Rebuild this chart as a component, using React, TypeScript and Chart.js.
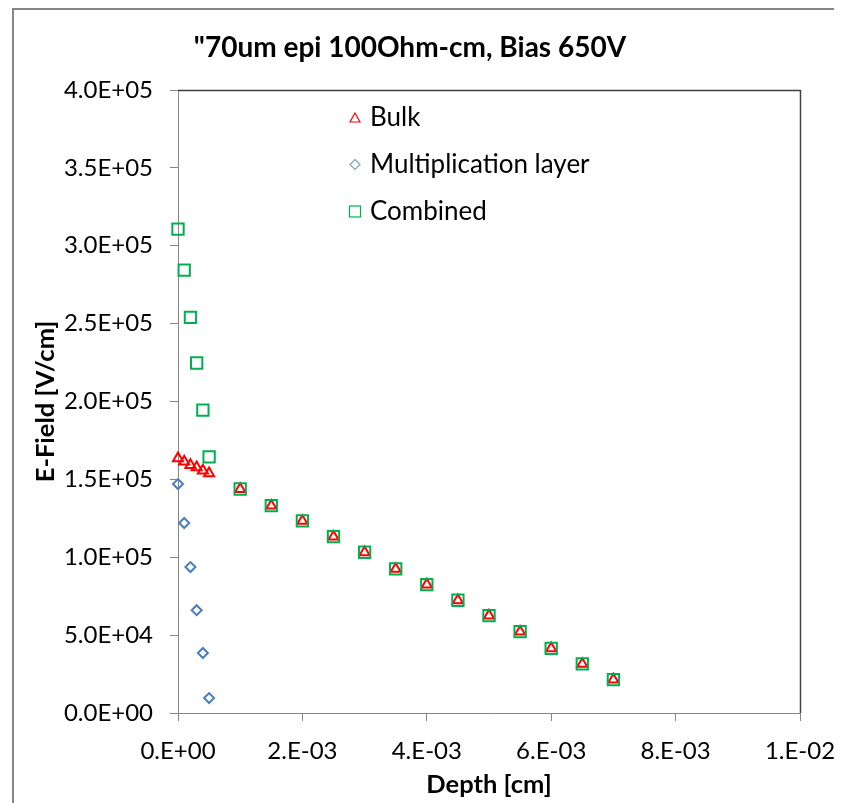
import React, { useEffect, useRef } from 'react';
import { Chart, registerables } from 'chart.js';

Chart.register(...registerables);

const TITLE = '"70um epi 100Ohm-cm, Bias 650V';
const X_TITLE = 'Depth [cm]';
const Y_TITLE = 'E-Field [V/cm]';
const SERIES_NAMES = ['Bulk', 'Multiplication layer', 'Combined'];

const depth = [0, 0.0001, 0.0002, 0.0003, 0.0004, 0.0005, 0.001, 0.0015, 0.002, 0.0025, 0.003, 0.0035, 0.004, 0.0045, 0.005, 0.0055, 0.006, 0.0065, 0.007];
const bulk = [163500, 161400, 159200, 157700, 155600, 153900, 143800, 133100, 123300, 113200, 103200, 92500, 82400, 72400, 62500, 52200, 41500, 31500, 21400];
const multDepth = [0, 0.0001, 0.0002, 0.0003, 0.0004, 0.0005];
const mult = [147000, 122000, 93700, 66000, 38500, 9600];
const combined = [310700, 284400, 254000, 224700, 194500, 164400, 143800, 133100, 123300, 113200, 103200, 92500, 82400, 72400, 62500, 52200, 41500, 31500, 21400];

const X_MIN = 0, X_MAX = 0.01, X_STEP = 0.002;
const Y_MIN = 0, Y_MAX = 400000, Y_STEP = 50000;

const COLORS = { bulk: '#FF0000', mult: '#4A7EBB', combined: '#00B050' };
const FONT = 'Lato, "Open Sans", sans-serif';

function fmtExp(v: number, d: number): string {
  const s = v.toExponential(d);
  const [m, e] = s.split('e');
  const n = parseInt(e, 10);
  const sign = n < 0 ? '-' : '+';
  const ee = String(Math.abs(n)).padStart(2, '0');
  return (d === 0 ? m + '.' : m) + 'E' + sign + ee;
}

const decor = {
  id: 'decor',
  beforeDraw(chart: any) {
    const ctx = chart.ctx;
    ctx.save();
    ctx.fillStyle = '#ffffff';
    ctx.fillRect(0, 0, chart.width, chart.height);
    ctx.strokeStyle = '#868686';
    ctx.lineWidth = 2;
    ctx.beginPath();
    ctx.moveTo(5, chart.height + 5);
    ctx.lineTo(5, 1);
    ctx.lineTo(chart.width + 5, 1);
    ctx.stroke();
    ctx.fillStyle = '#000';
    ctx.font = 'bold 28px ' + FONT;
    ctx.textAlign = 'center';
    ctx.textBaseline = 'middle';
    ctx.fillText(TITLE, 402, 40);
    ctx.restore();
  },
  afterDraw(chart: any) {
    const ctx = chart.ctx;
    const { left, right, top, bottom } = chart.chartArea;
    ctx.save();
    ctx.strokeStyle = '#404040';
    ctx.lineWidth = 1.5;
    ctx.beginPath();
    ctx.moveTo(left, top + 0.5);
    ctx.lineTo(right + 0.5, top + 0.5);
    ctx.lineTo(right + 0.5, bottom);
    ctx.stroke();

    // legend
    const mx = left + 177;
    const tx = left + 192;
    const rows = [top + 28, top + 74.5, top + 121.5];
    ctx.lineWidth = 1.2;
    ctx.strokeStyle = COLORS.bulk;
    ctx.beginPath();
    ctx.moveTo(mx, rows[0] - 5);
    ctx.lineTo(mx + 5, rows[0] + 4);
    ctx.lineTo(mx - 5, rows[0] + 4);
    ctx.closePath();
    ctx.stroke();
    ctx.strokeStyle = '#7F9FCF';
    ctx.beginPath();
    ctx.moveTo(mx, rows[1] - 5);
    ctx.lineTo(mx + 5, rows[1]);
    ctx.lineTo(mx, rows[1] + 5);
    ctx.lineTo(mx - 5, rows[1]);
    ctx.closePath();
    ctx.stroke();
    ctx.strokeStyle = COLORS.combined;
    ctx.strokeRect(mx - 5.5, rows[2] - 5.5, 11, 11);

    ctx.fillStyle = '#000';
    ctx.font = '26px ' + FONT;
    ctx.textAlign = 'left';
    ctx.textBaseline = 'middle';
    SERIES_NAMES.forEach((n, i) => ctx.fillText(n, tx, rows[i]));
    ctx.restore();
  },
};

export default function App() {
  const ref = useRef<HTMLCanvasElement | null>(null);
  useEffect(() => {
    if (!ref.current) return;
    const toPts = (xs: number[], ys: number[]) => xs.map((x, i) => ({ x, y: ys[i] }));
    const chart = new Chart(ref.current, {
      type: 'scatter',
      data: {
        datasets: [
          {
            label: SERIES_NAMES[0],
            data: toPts(depth, bulk),
            pointStyle: 'triangle',
            pointRadius: 5.8,
            borderColor: COLORS.bulk,
            backgroundColor: 'rgba(0,0,0,0)',
            borderWidth: 2,
            order: 1,
            clip: false,
          },
          {
            label: SERIES_NAMES[1],
            data: toPts(multDepth, mult),
            pointStyle: 'rectRot',
            pointRadius: 5,
            borderColor: COLORS.mult,
            backgroundColor: 'rgba(0,0,0,0)',
            borderWidth: 2,
            order: 2,
            clip: false,
          },
          {
            label: SERIES_NAMES[2],
            data: toPts(depth, combined),
            pointStyle: 'rect',
            pointRadius: 8,
            borderColor: COLORS.combined,
            backgroundColor: 'rgba(0,0,0,0)',
            borderWidth: 2,
            order: 0,
            clip: false,
          },
        ],
      },
      options: {
        responsive: false,
        animation: false,
        layout: { padding: { left: 10, right: 42, top: 82, bottom: 0 } },
        plugins: { legend: { display: false }, title: { display: false }, tooltip: { enabled: false } },
        scales: {
          x: {
            type: 'linear',
            min: X_MIN,
            max: X_MAX,
            afterFit: (s: any) => { s.height = 90; s.paddingLeft = 0; s.paddingRight = 0; },
            ticks: {
              stepSize: X_STEP,
              color: '#000',
              padding: 16,
              maxRotation: 0,
              font: { family: FONT, size: 24 },
              callback: (v: any) => fmtExp(Number(v), 0),
            },
            grid: { drawOnChartArea: false, drawTicks: true, tickLength: 8, color: '#868686' },
            border: { display: true, color: '#868686', width: 1 },
            title: { display: true, text: X_TITLE, color: '#000', font: { family: FONT, size: 25.5, weight: 'bold' }, padding: { top: 0, bottom: 3 } },
          },
          y: {
            type: 'linear',
            min: Y_MIN,
            max: Y_MAX,
            afterFit: (s: any) => { s.width = 160; s.paddingTop = 0; s.paddingBottom = 0; },
            ticks: {
              stepSize: Y_STEP,
              color: '#000',
              padding: 17,
              font: { family: FONT, size: 24 },
              callback: (v: any) => fmtExp(Number(v), 1),
            },
            grid: { drawOnChartArea: false, drawTicks: true, tickLength: 8, color: '#868686' },
            border: { display: true, color: '#868686', width: 1 },
            title: { display: true, text: Y_TITLE, color: '#000', font: { family: FONT, size: 25.5, weight: 'bold' }, padding: { top: 12, bottom: 0 } },
          },
        },
      },
      plugins: [decor],
    } as any);
    return () => chart.destroy();
  }, []);
  return (
    <div style={{ width: 834, height: 795 }}>
      <canvas ref={ref} width={834} height={795} style={{ display: 'block' }} />
    </div>
  );
}
